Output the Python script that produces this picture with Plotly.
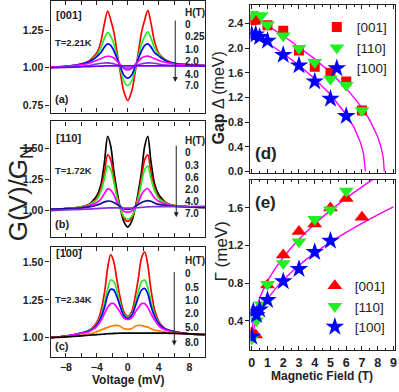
import plotly.graph_objects as go

# ---------------- data ----------------
V = [-10, -8, -6, -5, -4.5, -4, -3.5, -3, -2.6, -2.2, -1.8, -1.4, -1, -0.5, 0,
     0.5, 1, 1.4, 1.8, 2.2, 2.6, 3, 3.5, 4, 4.5, 5, 6, 8, 10]

# panel (a) [001], T=2.21K
a_H = ["0", "0.25", "1.0", "2.0", "4.0", "7.0"]
a_0 = [1.005, 1.01, 1.025, 1.045, 1.07, 1.10, 1.17, 1.30, 1.38, 1.32, 1.24, 1.11, 0.98, 0.84, 0.78,
       0.84, 0.98, 1.11, 1.24, 1.32, 1.385, 1.30, 1.17, 1.10, 1.07, 1.05, 1.03, 1.02, 1.015]
a_025 = [1.005, 1.01, 1.025, 1.04, 1.06, 1.085, 1.13, 1.20, 1.235, 1.21, 1.16, 1.08, 1.00, 0.91, 0.88,
         0.91, 1.00, 1.08, 1.16, 1.21, 1.24, 1.20, 1.13, 1.09, 1.065, 1.045, 1.03, 1.02, 1.015]
a_1 = [1.005, 1.01, 1.025, 1.04, 1.055, 1.075, 1.10, 1.14, 1.16, 1.15, 1.115, 1.065, 1.015, 0.95, 0.93,
       0.95, 1.015, 1.065, 1.115, 1.15, 1.16, 1.14, 1.10, 1.08, 1.06, 1.045, 1.03, 1.02, 1.015]
a_2 = [1.005, 1.01, 1.02, 1.03, 1.04, 1.05, 1.06, 1.072, 1.077, 1.075, 1.065, 1.045, 1.025, 0.995, 0.985,
       0.995, 1.025, 1.045, 1.065, 1.075, 1.078, 1.072, 1.06, 1.05, 1.04, 1.035, 1.025, 1.02, 1.015]
a_4 = [1.0, 1.005, 1.01, 1.015, 1.02, 1.025, 1.03, 1.032, 1.033, 1.03, 1.027, 1.02, 1.01, 1.0, 0.997,
       1.0, 1.01, 1.02, 1.027, 1.03, 1.033, 1.032, 1.03, 1.025, 1.02, 1.018, 1.015, 1.012, 1.01]
a_7 = [1.0, 1.003, 1.006, 1.008, 1.009, 1.01, 1.011, 1.012, 1.012, 1.012, 1.012, 1.012, 1.012, 1.012, 1.012,
       1.012, 1.012, 1.012, 1.012, 1.012, 1.012, 1.012, 1.012, 1.012, 1.012, 1.012, 1.012, 1.012, 1.012]

# panel (b) [110], T=1.72K
b_H = ["0", "0.3", "0.6", "2.0", "4.0", "7.0"]
b_0 = [1.01, 1.015, 1.03, 1.05, 1.08, 1.12, 1.20, 1.40, 1.60, 1.52, 1.32, 1.16, 1.03, 0.91, 0.867,
       0.91, 1.03, 1.16, 1.32, 1.52, 1.60, 1.40, 1.21, 1.13, 1.09, 1.06, 1.04, 1.03, 1.025]
b_03 = [1.01, 1.015, 1.03, 1.05, 1.07, 1.10, 1.17, 1.31, 1.45, 1.41, 1.27, 1.13, 1.03, 0.94, 0.912,
        0.94, 1.03, 1.13, 1.27, 1.41, 1.45, 1.31, 1.18, 1.11, 1.08, 1.06, 1.04, 1.03, 1.025]
b_06 = [1.01, 1.015, 1.03, 1.045, 1.065, 1.09, 1.15, 1.26, 1.36, 1.33, 1.23, 1.11, 1.02, 0.95, 0.93,
        0.95, 1.02, 1.11, 1.23, 1.33, 1.36, 1.26, 1.16, 1.10, 1.075, 1.055, 1.04, 1.03, 1.025]
b_2 = [1.01, 1.015, 1.025, 1.04, 1.05, 1.065, 1.09, 1.14, 1.175, 1.165, 1.13, 1.07, 1.03, 0.995, 0.987,
       0.995, 1.03, 1.07, 1.13, 1.165, 1.178, 1.145, 1.10, 1.075, 1.06, 1.05, 1.035, 1.03, 1.025]
b_4 = [1.01, 1.015, 1.02, 1.03, 1.035, 1.045, 1.055, 1.07, 1.077, 1.075, 1.065, 1.05, 1.035, 1.015, 1.01,
       1.015, 1.035, 1.05, 1.065, 1.075, 1.08, 1.075, 1.06, 1.05, 1.045, 1.04, 1.035, 1.03, 1.025]
b_7 = [1.0, 1.005, 1.01, 1.012, 1.014, 1.016, 1.018, 1.02, 1.021, 1.022, 1.022, 1.022, 1.021, 1.02, 1.02,
       1.02, 1.022, 1.024, 1.026, 1.028, 1.03, 1.031, 1.032, 1.032, 1.032, 1.032, 1.032, 1.033, 1.035]

# panel (c) [100], T=2.34K
c_H = ["0", "0.5", "1.0", "2.0", "5.0", "8.0"]
c_0 = [1.0, 1.01, 1.03, 1.05, 1.07, 1.10, 1.17, 1.30, 1.46, 1.548, 1.50, 1.38, 1.27, 1.17, 1.141,
       1.17, 1.28, 1.40, 1.53, 1.565, 1.48, 1.32, 1.18, 1.11, 1.075, 1.055, 1.04, 1.025, 1.02]
c_05 = [1.0, 1.01, 1.03, 1.05, 1.065, 1.09, 1.14, 1.23, 1.32, 1.38, 1.37, 1.31, 1.23, 1.155, 1.135,
        1.155, 1.23, 1.31, 1.37, 1.38, 1.33, 1.24, 1.15, 1.10, 1.07, 1.055, 1.04, 1.025, 1.02]
c_1 = [1.0, 1.01, 1.03, 1.045, 1.06, 1.085, 1.13, 1.20, 1.28, 1.32, 1.315, 1.27, 1.21, 1.145, 1.128,
       1.145, 1.21, 1.27, 1.315, 1.325, 1.29, 1.21, 1.14, 1.095, 1.07, 1.055, 1.04, 1.025, 1.02]
c_2 = [1.0, 1.01, 1.03, 1.04, 1.055, 1.075, 1.11, 1.16, 1.20, 1.225, 1.225, 1.20, 1.17, 1.13, 1.12,
       1.13, 1.17, 1.20, 1.225, 1.225, 1.20, 1.16, 1.115, 1.08, 1.06, 1.05, 1.035, 1.025, 1.02]
c_5 = [1.0, 1.005, 1.015, 1.025, 1.03, 1.04, 1.05, 1.06, 1.068, 1.075, 1.08, 1.081, 1.075, 1.06, 1.055,
       1.06, 1.075, 1.082, 1.08, 1.075, 1.07, 1.06, 1.05, 1.045, 1.04, 1.035, 1.03, 1.025, 1.02]
c_8 = [1.0, 1.005, 1.012, 1.016, 1.018, 1.02, 1.022, 1.024, 1.026, 1.027, 1.028, 1.029, 1.03, 1.03, 1.03,
       1.03, 1.03, 1.03, 1.03, 1.03, 1.03, 1.03, 1.03, 1.03, 1.03, 1.03, 1.028, 1.025, 1.02]

# panel (d) gap vs field
d001_H = [0, 0.25, 1, 2, 3, 4, 5, 6, 7]
d001_D = [2.45, 2.46, 2.37, 2.28, 1.96, 1.70, 1.60, 1.46, 0.99]
d110_H = [0, 0.6, 1, 2, 3, 4, 5, 6, 7]
d110_D = [2.55, 2.53, 2.38, 2.20, 2.00, 1.77, 1.50, 1.40, 0.99]
d100_H = [0, 0.25, 0.5, 1, 2, 3, 4, 5, 6]
d100_D = [2.22, 2.22, 2.18, 2.12, 1.89, 1.72, 1.46, 1.18, 0.90]
dfit1_H = [0.1, 1, 2, 3, 4, 5, 6, 7, 7.5, 8.0, 8.2, 8.35, 8.42]
dfit1_D = [2.50, 2.366, 2.20, 2.02, 1.826, 1.606, 1.351, 1.035, 0.833, 0.563, 0.407, 0.23, 0.0]
dfit2_H = [0.1, 1, 2, 3, 4, 5, 6, 6.5, 6.9, 7.1, 7.2, 7.22]
dfit2_D = [2.24, 2.088, 1.913, 1.72, 1.503, 1.248, 0.925, 0.711, 0.474, 0.29, 0.118, 0.0]

# panel (e) broadening vs field
e001_H = [0, 0.25, 1, 2, 3, 4, 5, 6, 7]
e001_G = [0.27, 0.25, 0.78, 1.10, 1.35, 1.43, 1.60, 1.70, 1.50]
e110_H = [0, 0.3, 0.6, 1, 2, 3, 4, 5, 6]
e110_G = [0.21, 0.40, 0.57, 0.79, 1.01, 1.24, 1.48, 1.58, 1.78]
e100_H = [0, 0.1, 0.3, 0.5, 1, 2, 3, 4, 5]
e100_G = [0.23, 0.50, 0.46, 0.52, 0.62, 0.82, 0.95, 1.13, 1.25]
efit1_H = [0.02, 0.1, 0.25, 0.5, 1, 1.5, 2, 3, 4, 5, 6, 7, 8]
efit1_G = [0.296, 0.403, 0.515, 0.641, 0.82, 0.957, 1.073, 1.267, 1.43, 1.574, 1.704, 1.824, 1.935]
efit2_H = [0.02, 0.1, 0.25, 0.5, 1, 1.5, 2, 3, 4, 5, 6, 7, 8, 9]
efit2_G = [0.21, 0.29, 0.385, 0.486, 0.629, 0.74, 0.833, 0.989, 1.119, 1.236, 1.34, 1.436, 1.526, 1.61]

LEG = ["[001]", "[110]", "[100]"]

# ---------------- figure ----------------
W, Hh = 399, 392
FONT = "Liberation Sans"
fig = go.Figure()

def px(x):
    return x / W

def py(y):
    return 1 - y / Hh

panels = [
    ("x", "y", [a_0, a_025, a_1, a_2, a_4, a_7],
     ["#ff0000", "#22ee22", "#0000ff", "#ff00ff", "#8a2be2", "#7000ff"]),
    ("x2", "y2", [b_0, b_03, b_06, b_2, b_4, b_7],
     ["#000000", "#ff0000", "#22ee22", "#ff00ff", "#101090", "#8a2be2"]),
    ("x3", "y3", [c_0, c_05, c_1, c_2, c_5, c_8],
     ["#ff0000", "#22ee22", "#0000ff", "#ff00ff", "#ff8000", "#000000"]),
]
for xa, ya, curves, cols in panels:
    for ys, col in zip(curves, cols):
        fig.add_trace(go.Scatter(x=V, y=ys, xaxis=xa, yaxis=ya, mode="lines",
                                 line=dict(color=col, width=1.7, shape="spline", smoothing=0.9),
                                 showlegend=False, hoverinfo="skip"))

mag = "#ff00ff"
for hx, hy in [(dfit1_H, dfit1_D), (dfit2_H, dfit2_D)]:
    fig.add_trace(go.Scatter(x=hx, y=hy, xaxis="x4", yaxis="y4", mode="lines",
                             line=dict(color=mag, width=1.4), showlegend=False))
for hx, hy in [(efit1_H, efit1_G), (efit2_H, efit2_G)]:
    fig.add_trace(go.Scatter(x=hx, y=hy, xaxis="x5", yaxis="y5", mode="lines",
                             line=dict(color=mag, width=1.4, shape="spline"), showlegend=False))

fig.add_trace(go.Scatter(x=d001_H, y=d001_D, xaxis="x4", yaxis="y4", mode="markers", name=LEG[0],
                         marker=dict(symbol="square", size=10, color="#ff0000"), legend="legend"))
fig.add_trace(go.Scatter(x=d110_H, y=d110_D, xaxis="x4", yaxis="y4", mode="markers", name=LEG[1],
                         marker=dict(symbol="triangle-down", size=13, color="#22ee22"), legend="legend"))
fig.add_trace(go.Scatter(x=d100_H, y=d100_D, xaxis="x4", yaxis="y4", mode="markers", name=LEG[2],
                         marker=dict(symbol="star", size=14, color="#0000ff"), legend="legend"))

fig.add_trace(go.Scatter(x=e001_H, y=e001_G, xaxis="x5", yaxis="y5", mode="markers", name=LEG[0],
                         marker=dict(symbol="triangle-up", size=13, color="#ff0000"), legend="legend2"))
fig.add_trace(go.Scatter(x=e110_H, y=e110_G, xaxis="x5", yaxis="y5", mode="markers", name=LEG[1],
                         marker=dict(symbol="triangle-down", size=13, color="#22ee22"), legend="legend2"))
fig.add_trace(go.Scatter(x=e100_H, y=e100_G, xaxis="x5", yaxis="y5", mode="markers", name=LEG[2],
                         marker=dict(symbol="star", size=14, color="#0000ff"), legend="legend2"))

base = dict(showline=True, linecolor="#222", linewidth=1.2, tickwidth=1, tickcolor="#222",
            showgrid=False, zeroline=False)
xax = dict(base, mirror="allticks", ticks="inside", ticklen=4,
           tickfont=dict(family=FONT, size=10.5, color="#222", weight="bold"))
yax = dict(base, mirror=True, ticks="outside", ticklen=4,
           tickfont=dict(family=FONT, size=10.5, color="#222", weight="bold"))

LX = [px(49), px(205)]
RX = [px(251), px(397)]
lay = dict(
    width=W, height=Hh, margin=dict(l=0, r=0, t=0, b=0),
    paper_bgcolor="white", plot_bgcolor="white",
    font=dict(family=FONT, color="#222"),
    xaxis=dict(xax, domain=LX, anchor="y", range=[-10, 10], dtick=4, showticklabels=False,
               minor=dict(dtick=2, ticklen=4, ticks="inside")),
    yaxis=dict(yax, domain=[py(114), py(1)], anchor="x", range=[0.70, 1.447],
               tickvals=[0.75, 1.0, 1.25], tickformat=".2f"),
    xaxis2=dict(xax, domain=LX, anchor="y2", range=[-10, 10], dtick=4, showticklabels=False,
                minor=dict(dtick=2, ticklen=4, ticks="inside")),
    yaxis2=dict(yax, domain=[py(240), py(123)], anchor="x2", range=[0.787, 1.72],
                tickvals=[1.0, 1.25, 1.5], tickformat=".2f"),
    xaxis3=dict(xax, domain=LX, anchor="y3", range=[-10, 10], tickvals=[-8, -4, 0, 4, 8],
                minor=dict(dtick=2, ticklen=4, ticks="inside")),
    yaxis3=dict(yax, domain=[py(362), py(250)], anchor="x3", range=[0.87, 1.60],
                tickvals=[1.0, 1.25, 1.5], tickformat=".2f"),
    xaxis4=dict(xax, domain=RX, anchor="y4", range=[-0.08, 9.1], dtick=1, showticklabels=False,
                minor=dict(dtick=0.5, ticklen=2, ticks="inside")),
    yaxis4=dict(yax, domain=[py(175), py(5)], anchor="x4", range=[-0.02, 2.7],
                tickvals=[0, 0.4, 0.8, 1.2, 1.6, 2.0, 2.4], tickformat=".1f",
                tickfont=dict(family=FONT, size=11, color="#222", weight="bold")),
    xaxis5=dict(xax, domain=RX, anchor="y5", range=[-0.08, 9.1], dtick=1,
                minor=dict(dtick=0.5, ticklen=2, ticks="inside"),
                tickfont=dict(family=FONT, size=12.5, color="#222", weight="bold")),
    yaxis5=dict(yax, domain=[py(355), py(182)], anchor="x5", range=[0.085, 1.9],
                tickvals=[0.4, 0.8, 1.2, 1.6], tickformat=".1f",
                tickfont=dict(family=FONT, size=11, color="#222", weight="bold")),
    legend=dict(x=px(318), y=py(12), xanchor="left", yanchor="top", bgcolor="rgba(0,0,0,0)",
                font=dict(family=FONT, size=13.5, color="#222"), tracegroupgap=0, itemwidth=30),
    legend2=dict(x=px(316), y=py(274), xanchor="left", yanchor="top", bgcolor="rgba(0,0,0,0)",
                 font=dict(family=FONT, size=13.5, color="#222"), tracegroupgap=0, itemwidth=30),
)
fig.update_layout(**lay)

ann = []
def txt(x, y, s, size=10, bold=True, xanchor="left", angle=0):
    ann.append(dict(x=px(x), y=py(y), xref="paper", yref="paper", text=s, showarrow=False,
                    xanchor=xanchor, yanchor="middle", textangle=angle,
                    font=dict(family=FONT, size=size, color="#222", weight="bold" if bold else "normal")))

def arrow(x, y0, y1):
    ann.append(dict(x=px(x), y=py(y1), xref="paper", yref="paper", ax=0, ay=-(y1 - y0),
                    axref="pixel", ayref="pixel", text="", showarrow=True, arrowhead=2,
                    arrowsize=1, arrowwidth=1, arrowcolor="#222"))

# panel labels
blocks = [
    ("[001]", 15, "T=2.21K", 43, "(a)", 100, 13, [25, 37, 50, 62, 75, 87], a_H, (175, 20, 83)),
    ("[110]", 140, "T=1.72K", 173, "(b)", 227, 142, [154, 168, 180, 192, 204, 216], b_H, (176, 147, 220)),
    ("[100]", 256, "T=2.34K", 303, "(c)", 350, 264, [277, 291, 304, 318, 332, 347], c_H, (174, 275, 350)),
]
for lab, ly, tlab, ty, plab, pyy, hy, vys, hs, ar in blocks:
    txt(53, ly, lab, 11)
    txt(52, ty, tlab, 9.5)
    txt(52, pyy, plab, 11)
    txt(183, hy, "H(T)", 10)
    for yy, s in zip(vys, hs):
        txt(183, yy, s, 10)
    arrow(*ar)

txt(254, 155, "(d)", 17)
txt(254, 205, "(e)", 17)
txt(18, 196, "G(V)/G<sub>N</sub>", 26, bold=False, xanchor="center", angle=-90)
txt(219, 99, "Gap <span style='font-weight:normal'>Δ (meV)</span>", 16, xanchor="center", angle=-90)
txt(222, 255, "Γ (meV)", 17, bold=False, xanchor="center", angle=-90)
txt(127, 385, "Voltage (mV)", 12, xanchor="center")
txt(323, 381, "Magnetic Field (T)", 12, xanchor="center")
fig.update_layout(annotations=ann)

fig.write_html("out.html", config={"displayModeBar": False},
               post_script="document.body.style.margin='0';document.body.style.padding='0';"
                           "document.body.style.overflow='hidden';")
